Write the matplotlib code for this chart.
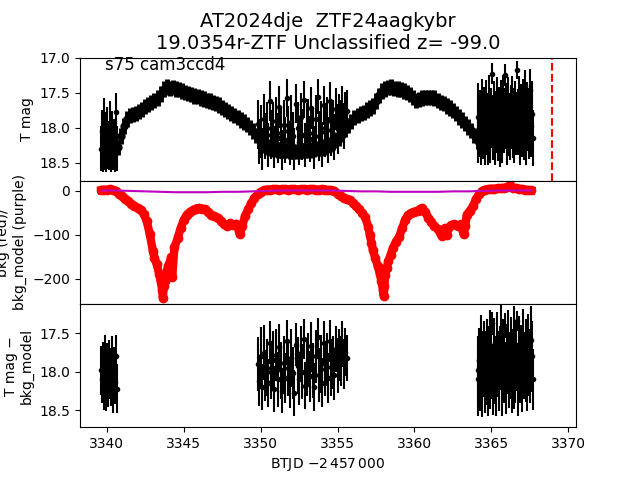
import matplotlib
matplotlib.use('Agg')
import matplotlib.pyplot as plt

# ---------------- data ----------------
title_text = 'AT2024dje  ZTF24aagkybr\n19.0354r-ZTF Unclassified z= -99.0'
sector_text = 's75 cam3ccd4'
marker_time = 3368.95

# smooth part of the light curve (top panel)
t_smooth = [3340.7, 3340.9, 3341.1, 3341.3, 3341.5, 3341.7, 3341.9, 3342.1, 3342.3, 3342.5,
            3342.7, 3342.9, 3343.1, 3343.3, 3343.5, 3343.7, 3343.9, 3344.1, 3344.3, 3344.5,
            3344.7, 3344.9, 3345.1, 3345.3, 3345.5, 3345.7, 3345.9, 3346.1, 3346.3, 3346.5,
            3346.7, 3346.9, 3347.1, 3347.3, 3347.5, 3347.7, 3347.9, 3348.1, 3348.3, 3348.5,
            3348.7, 3348.9, 3349.1, 3349.3, 3349.5, 3349.7, 3349.9, 3350.1, 3350.3, 3350.5,
            3350.7, 3350.9, 3351.1, 3351.3, 3351.5, 3351.7, 3351.9, 3352.1, 3352.3, 3352.5,
            3352.7, 3352.9, 3353.1, 3353.3, 3353.5, 3353.7, 3353.9, 3354.1, 3354.3, 3354.5,
            3354.7, 3354.9, 3355.1, 3355.3, 3355.5, 3355.7, 3355.9, 3356.1, 3356.3, 3356.5,
            3356.7, 3356.9, 3357.1, 3357.3, 3357.5, 3357.7, 3357.9, 3358.1, 3358.3, 3358.5,
            3358.7, 3358.9, 3359.1, 3359.3, 3359.5, 3359.7, 3359.9, 3360.1, 3360.3, 3360.5,
            3360.7, 3360.9, 3361.1, 3361.3, 3361.5, 3361.7, 3361.9, 3362.1, 3362.3, 3362.5,
            3362.7, 3362.9, 3363.1, 3363.3, 3363.5, 3363.7, 3363.9, 3364.1]
m_smooth = [18.28, 18.12, 17.98, 17.88, 17.83, 17.81, 17.80, 17.77, 17.74, 17.70,
            17.67, 17.64, 17.61, 17.58, 17.52, 17.45, 17.42, 17.44, 17.43, 17.45,
            17.46, 17.48, 17.50, 17.51, 17.53, 17.55, 17.56, 17.58, 17.59, 17.61,
            17.62, 17.64, 17.66, 17.68, 17.71, 17.74, 17.77, 17.80, 17.83, 17.86,
            17.89, 17.92, 17.96, 18.00, 18.05, 18.11, 18.17, 18.22, 18.26, 18.28,
            18.30, 18.31, 18.32, 18.32, 18.33, 18.33, 18.34, 18.34, 18.34, 18.34,
            18.33, 18.33, 18.32, 18.32, 18.31, 18.30, 18.29, 18.28, 18.26, 18.24,
            18.21, 18.18, 18.15, 18.10, 18.03, 17.97, 17.91, 17.86, 17.83, 17.80,
            17.78, 17.75, 17.72, 17.69, 17.62, 17.54, 17.48, 17.45, 17.43, 17.42,
            17.44, 17.45, 17.46, 17.48, 17.50, 17.53, 17.57, 17.61, 17.60, 17.58,
            17.57, 17.57, 17.57, 17.58, 17.61, 17.64, 17.66, 17.69, 17.72, 17.76,
            17.80, 17.85, 17.89, 17.94, 17.99, 18.04, 18.11, 18.19]
e_smooth = 0.11

# noisy segment 1
t_seg1 = [3339.62, 3339.68, 3339.74, 3339.80, 3339.86, 3339.92, 3339.98, 3340.04, 3340.10,
          3340.16, 3340.22, 3340.28, 3340.34, 3340.40, 3340.46, 3340.52, 3340.58, 3340.64]
m_seg1 = [18.30, 18.05, 18.32, 17.88, 18.28, 18.12, 18.35, 18.02, 18.25,
          18.30, 17.95, 18.33, 18.10, 18.28, 18.20, 18.34, 17.78, 18.30]
e_seg1 = [0.32, 0.30, 0.31, 0.30, 0.33, 0.34, 0.29, 0.32, 0.34,
          0.31, 0.33, 0.30, 0.34, 0.33, 0.32, 0.29, 0.28, 0.32]
d_seg1 = [17.98, 18.10, 17.92, 18.20, 17.85, 18.05, 18.22, 17.95, 18.12,
          17.90, 18.02, 18.15, 17.88, 18.20, 18.00, 18.13, 17.80, 18.22]

# noisy segment 2
t_seg2 = [3349.8, 3349.9, 3350.0, 3350.1, 3350.2, 3350.3, 3350.4, 3350.5, 3350.6, 3350.7,
          3350.8, 3350.9, 3351.0, 3351.1, 3351.2, 3351.3, 3351.4, 3351.5, 3351.6, 3351.7,
          3351.8, 3351.9, 3352.0, 3352.1, 3352.2, 3352.3, 3352.4, 3352.5, 3352.6, 3352.7,
          3352.8, 3352.9, 3353.0, 3353.1, 3353.2, 3353.3, 3353.4, 3353.5, 3353.6, 3353.7,
          3353.8, 3353.9, 3354.0, 3354.1, 3354.2, 3354.3, 3354.4, 3354.5, 3354.6, 3354.7,
          3354.8, 3354.9, 3355.0, 3355.1, 3355.2, 3355.3, 3355.4, 3355.5, 3355.6]
m_seg2 = [17.95, 18.20, 18.05, 18.30, 17.88, 18.12, 18.00, 18.25, 17.62, 18.10,
          18.02, 18.28, 17.90, 18.15, 17.70, 18.08, 18.32, 17.96, 18.18, 17.58,
          18.05, 18.22, 17.92, 18.12, 18.30, 17.66, 18.00, 18.20, 17.85, 18.10,
          17.60, 18.25, 18.02, 17.94, 18.16, 17.72, 18.08, 18.28, 17.88, 17.56,
          18.12, 18.00, 18.24, 17.68, 18.06, 17.90, 18.18, 17.62, 18.04, 17.96,
          18.14, 17.74, 18.02, 17.86, 17.92, 17.70, 17.98, 17.80, 17.76]
e_seg2 = [0.35, 0.32, 0.38, 0.30, 0.36, 0.33, 0.37, 0.31, 0.28, 0.35,
          0.38, 0.30, 0.34, 0.36, 0.30, 0.37, 0.29, 0.35, 0.33, 0.27,
          0.36, 0.32, 0.38, 0.34, 0.30, 0.28, 0.37, 0.33, 0.35, 0.36,
          0.26, 0.31, 0.37, 0.35, 0.33, 0.30, 0.36, 0.31, 0.34, 0.25,
          0.35, 0.38, 0.32, 0.28, 0.36, 0.34, 0.33, 0.27, 0.37, 0.35,
          0.33, 0.30, 0.36, 0.34, 0.32, 0.30, 0.33, 0.31, 0.30]
d_seg2 = [17.90, 18.12, 17.80, 18.20, 17.75, 18.05, 17.95, 18.15, 17.62, 18.00,
          17.85, 18.22, 17.78, 18.10, 17.68, 17.98, 18.25, 17.88, 18.08, 17.60,
          17.95, 18.15, 17.82, 18.02, 18.28, 17.65, 17.92, 18.10, 17.76, 18.00,
          17.58, 18.18, 17.94, 17.85, 18.06, 17.66, 17.98, 18.20, 17.80, 17.55,
          18.04, 17.90, 18.14, 17.62, 17.96, 17.84, 18.08, 17.60, 17.94, 17.88,
          18.04, 17.70, 17.92, 17.78, 17.86, 17.64, 17.90, 17.74, 17.82]

# noisy segment 3
t_seg3 = [3364.10, 3364.16, 3364.22, 3364.28, 3364.34, 3364.40, 3364.46, 3364.52, 3364.58, 3364.64,
          3364.70, 3364.76, 3364.82, 3364.88, 3364.94, 3365.00, 3365.06, 3365.12, 3365.18, 3365.24,
          3365.30, 3365.36, 3365.42, 3365.48, 3365.54, 3365.60, 3365.66, 3365.72, 3365.78, 3365.84,
          3365.90, 3365.96, 3366.02, 3366.08, 3366.14, 3366.20, 3366.26, 3366.32, 3366.38, 3366.44,
          3366.50, 3366.56, 3366.62, 3366.68, 3366.74, 3366.80, 3366.86, 3366.92, 3366.98, 3367.04,
          3367.10, 3367.16, 3367.22, 3367.28, 3367.34, 3367.40, 3367.46, 3367.52, 3367.58, 3367.64,
          3367.70]
m_seg3 = [18.05, 17.85, 18.00, 17.92, 18.10, 17.78, 18.02, 17.88, 18.08, 17.80,
          17.95, 18.12, 17.72, 17.90, 18.04, 17.86, 17.23, 18.00, 17.82, 18.10,
          17.92, 17.75, 18.05, 17.88, 18.14, 17.80, 17.96, 18.06, 17.65, 17.90,
          17.25, 17.84, 18.10, 17.76, 17.95, 18.04, 17.85, 17.68, 18.00, 17.90,
          18.08, 17.80, 17.94, 17.18, 17.92, 17.72, 18.12, 17.84, 17.98, 17.78,
          18.04, 17.40, 17.92, 18.10, 17.82, 17.88, 18.02, 17.47, 17.98, 17.80,
          18.15]
e_seg3 = [0.45, 0.48, 0.42, 0.46, 0.44, 0.47, 0.43, 0.46, 0.45, 0.48,
          0.44, 0.42, 0.47, 0.45, 0.46, 0.43, 0.15, 0.46, 0.48, 0.44,
          0.45, 0.47, 0.43, 0.46, 0.42, 0.48, 0.45, 0.44, 0.40, 0.46,
          0.16, 0.47, 0.44, 0.48, 0.45, 0.43, 0.46, 0.42, 0.44, 0.47,
          0.43, 0.46, 0.45, 0.13, 0.47, 0.45, 0.42, 0.46, 0.44, 0.48,
          0.43, 0.22, 0.46, 0.44, 0.47, 0.45, 0.43, 0.30, 0.44, 0.46,
          0.40]
d_seg3 = [17.98, 18.10, 17.85, 18.05, 17.70, 18.12, 17.90, 17.80, 18.08, 17.95,
          17.75, 18.15, 17.88, 17.65, 18.02, 17.92, 17.37, 18.10, 17.78, 17.98,
          18.12, 17.70, 17.90, 18.05, 17.82, 17.60, 18.00, 18.14, 17.72, 17.95,
          17.40, 18.08, 17.85, 17.68, 18.02, 17.92, 17.75, 18.12, 17.88, 17.62,
          18.05, 17.95, 17.80, 17.34, 18.10, 17.72, 17.98, 17.85, 18.08, 17.66,
          17.92, 18.14, 17.78, 17.95, 18.04, 17.70, 17.88, 18.10, 17.59, 17.80,
          18.10]

# background (red) and background model (purple)
bkg_t = [3339.65, 3339.8, 3340.0, 3340.2, 3340.4, 3340.6, 3340.8, 3341.0, 3341.2, 3341.4,
         3341.6, 3341.8, 3342.0, 3342.2, 3342.4, 3342.6, 3342.8, 3343.0, 3343.1, 3343.25,
         3343.4, 3343.5, 3343.6, 3343.65, 3343.7, 3343.8, 3343.9, 3344.0, 3344.2, 3344.25,
         3344.4, 3344.6, 3344.8, 3345.0, 3345.2, 3345.4, 3345.6, 3345.8, 3346.0, 3346.2,
         3346.4, 3346.6, 3346.8, 3347.0, 3347.2, 3347.4, 3347.6, 3347.8, 3348.0, 3348.2,
         3348.4, 3348.6, 3348.65, 3348.8, 3349.0, 3349.2, 3349.4, 3349.6, 3349.8, 3350.0,
         3350.2, 3350.4, 3350.6, 3350.8, 3351.0, 3351.2, 3351.4, 3351.6, 3351.8, 3352.0,
         3352.2, 3352.4, 3352.6, 3352.8, 3353.0, 3353.2, 3353.4, 3353.6, 3353.8, 3354.0,
         3354.2, 3354.4, 3354.6, 3354.8, 3355.0, 3355.2, 3355.4, 3355.6, 3355.8, 3356.0,
         3356.2, 3356.4, 3356.6, 3356.8, 3357.0, 3357.1, 3357.2, 3357.3, 3357.45, 3357.6,
         3357.75, 3357.85, 3357.95, 3358.0, 3358.05, 3358.1, 3358.2, 3358.3, 3358.45, 3358.6,
         3358.8, 3359.0, 3359.2, 3359.4, 3359.6, 3359.8, 3360.0, 3360.2, 3360.4, 3360.5,
         3360.7, 3360.9, 3361.1, 3361.3, 3361.5, 3361.7, 3361.8, 3361.9, 3362.0, 3362.1,
         3362.2, 3362.4, 3362.6, 3362.8, 3363.0, 3363.2, 3363.3, 3363.4, 3363.6, 3363.8,
         3364.0, 3364.2, 3364.4, 3364.6, 3364.8, 3365.0, 3365.2, 3365.4, 3365.6, 3365.8,
         3366.0, 3366.2, 3366.4, 3366.6, 3366.8, 3367.0, 3367.2, 3367.4, 3367.6]
bkg_v = [2, 3, 2, 4, 2, 0, -6, -12, -18, -23,
         -29, -34, -39, -44, -52, -69, -99, -137, -152, -167,
         -188, -205, -225, -244, -215, -205, -183, -170, -150, -195,
         -128, -108, -85, -66, -54, -48, -44, -40, -39, -40,
         -42, -48, -54, -58, -61, -68, -76, -80, -74, -78,
         -75, -90, -98, -80, -56, -42, -28, -16, -8, -2,
         1, 3, 3, 4, 4, 3, 4, 4, 3, 4,
         4, 3, 4, 4, 3, 4, 4, 3, 3, 4,
         3, 2, 2, -1, -6, -12, -16, -19, -21, -27,
         -34, -42, -50, -60, -82, -100, -118, -135, -152, -170,
         -188, -205, -225, -238, -215, -190, -175, -160, -145, -130,
         -115, -105, -85, -65, -54, -50, -47, -45, -40, -39,
         -48, -61, -70, -80, -86, -98, -103, -92, -85, -100,
         -84, -78, -76, -80, -76, -99, -80, -54, -45, -35,
         -18, -8, 0, 3, 4, 5, 5, 6, 6, 7,
         8, 13, 7, 6, 5, 4, 3, 2, 1]
model_t = [3339.65, 3340.5, 3341.5, 3342.5, 3343.5, 3344.5, 3345.5, 3346.5, 3347.5, 3348.5,
           3349.5, 3350.5, 3351.5, 3352.5, 3353.5, 3354.5, 3355.5, 3356.5, 3357.5, 3358.5,
           3359.5, 3360.5, 3361.5, 3362.5, 3363.5, 3364.5, 3365.5, 3366.5, 3367.6]
model_v = [1, 1, 0, -1, -2, -3, -3, -3, -2, -2,
           -1, 0, 1, 1, 1, 1, 0, -1, -1, -2,
           -2, -2, -2, -1, -1, 0, 1, 1, 1]

# ---------------- plot ----------------
fig, (ax1, ax2, ax3) = plt.subplots(3, 1, sharex=True, figsize=(6.4, 4.8), dpi=100)
fig.subplots_adjust(hspace=0)

eb = dict(fmt='o', color='k', ms=3)
eb_smooth = dict(fmt='o', color='k', ms=5, elinewidth=3.5)
ax1.errorbar(t_smooth, m_smooth, yerr=e_smooth, **eb_smooth)
ax1.errorbar(t_seg1, m_seg1, yerr=e_seg1, **eb)
ax1.errorbar(t_seg2, m_seg2, yerr=e_seg2, **eb)
ax1.errorbar(t_seg3, m_seg3, yerr=e_seg3, **eb)
ax1.axvline(marker_time, color='r', ls='--', lw=1.5)
ax1.set_ylim(18.76, 17.0)
ax1.set_ylabel('T mag')
ax1.text(0.05, 0.9, sector_text, transform=ax1.transAxes, fontsize=12)
ax1.set_title(title_text, fontsize=14)

ax2.plot(bkg_t, bkg_v, 'o-', color='r', ms=6, lw=6)
ax2.plot(model_t, model_v, '-', color='m', lw=1.5)
ax2.set_ylim(-257, 23)
ax2.set_ylabel('bkg (red)/\nbkg_model (purple)')

ax3.errorbar(t_seg1, d_seg1, yerr=e_seg1, **eb)
ax3.errorbar(t_seg2, d_seg2, yerr=e_seg2, **eb)
ax3.errorbar(t_seg3, d_seg3, yerr=e_seg3, **eb)
ax3.set_ylim(18.72, 17.12)
ax3.set_ylabel('T mag \u2212\nbkg_model')
ax3.set_xlabel('BTJD $-2\\,457\\,000$')
ax3.set_xlim(3338.26, 3370.5)

fig.savefig('out.png', dpi=100)
